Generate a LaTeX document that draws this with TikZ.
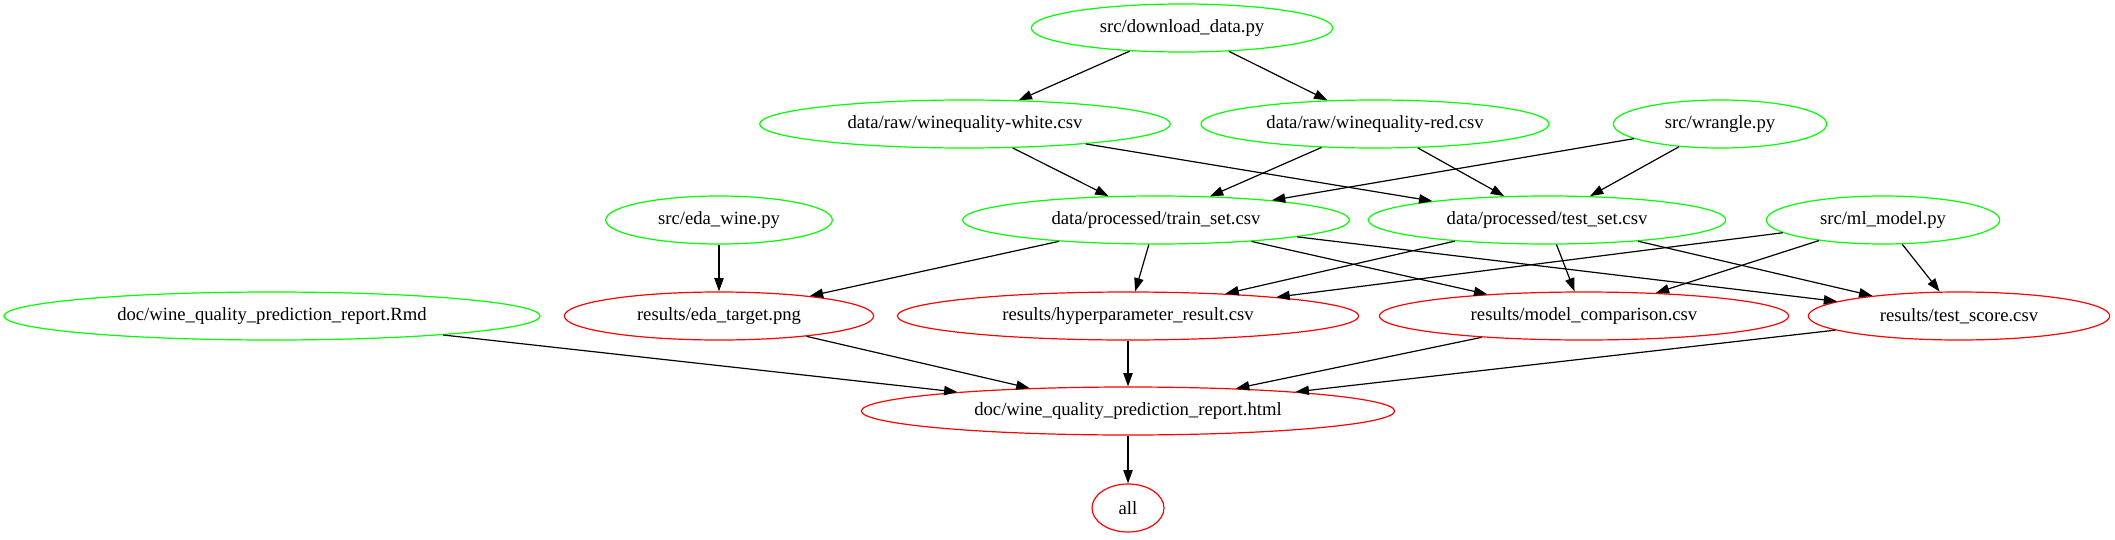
\documentclass[tikz,border=0pt]{standalone}
\usepackage{fontspec}
\setmainfont{Liberation Serif}
\usetikzlibrary{shapes.geometric,arrows.meta}
\tikzset{
  gnode/.style={ellipse, draw=green!100, line width=0.9pt, inner sep=0pt, minimum height=36pt, font=\fontsize{14}{16}\selectfont},
  rnode/.style={ellipse, draw=red, line width=0.9pt, inner sep=0pt, minimum height=36pt, font=\fontsize{14}{16}\selectfont},
  edge/.style={draw=black, line width=0.9pt, -{Triangle[length=10pt,width=7pt]}}
}
\definecolor{green}{RGB}{0,255,0}
\begin{document}
\begin{tikzpicture}[x=0.75pt,y=-0.75pt]
\useasboundingbox (0,0) rectangle (2115,539);
% row 1
\node[gnode, minimum width=226pt] (dl) at (1182,28) {src/download\_data.py};
% row 2
\node[gnode, minimum width=308pt] (white) at (965,124) {data/raw/winequality-white.csv};
\node[gnode, minimum width=261pt] (red) at (1375,124) {data/raw/winequality-red.csv};
\node[gnode, minimum width=160pt] (wr) at (1720,124) {src/wrangle.py};
% row 3
\node[gnode, minimum width=170pt] (eda) at (719,220) {src/eda\_wine.py};
\node[gnode, minimum width=290pt] (train) at (1156,220) {data/processed/train\_set.csv};
\node[gnode, minimum width=268pt] (test) at (1547,220) {data/processed/test\_set.csv};
\node[gnode, minimum width=175pt] (ml) at (1883,220) {src/ml\_model.py};
% row 4
\node[gnode, minimum width=402pt] (rmd) at (272,316) {doc/wine\_quality\_prediction\_report.Rmd};
\node[rnode, minimum width=232pt] (edat) at (719,316) {results/eda\_target.png};
\node[rnode, minimum width=346pt] (hyp) at (1128,316) {results/hyperparameter\_result.csv};
\node[rnode, minimum width=307pt] (mc) at (1584,316) {results/model\_comparison.csv};
\node[rnode, minimum width=226pt] (ts) at (1959,316) {results/test\_score.csv};
% row 5
\node[rnode, minimum width=400pt] (html) at (1128,411) {doc/wine\_quality\_prediction\_report.html};
% row 6
\node[rnode, minimum width=54pt] (all) at (1128,508) {all};
% edges
\draw[edge] (dl) -- (white);
\draw[edge] (dl) -- (red);
\draw[edge] (white) -- (train);
\draw[edge] (white) -- (test);
\draw[edge] (red) -- (train);
\draw[edge] (red) -- (test);
\draw[edge] (wr) -- (train);
\draw[edge] (wr) -- (test);
\draw[edge] (eda) -- (edat);
\draw[edge] (train) -- (edat);
\draw[edge] (train) -- (hyp);
\draw[edge] (train) -- (mc);
\draw[edge] (train) -- (ts);
\draw[edge] (test) -- (hyp);
\draw[edge] (test) -- (mc);
\draw[edge] (test) -- (ts);
\draw[edge] (ml) -- (hyp);
\draw[edge] (ml) -- (mc);
\draw[edge] (ml) -- (ts);
\draw[edge] (rmd) -- (html);
\draw[edge] (edat) -- (html);
\draw[edge] (hyp) -- (html);
\draw[edge] (mc) -- (html);
\draw[edge] (ts) -- (html);
\draw[edge] (html) -- (all);
\end{tikzpicture}
\end{document}
